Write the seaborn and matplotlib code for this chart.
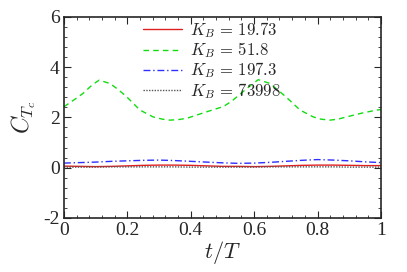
import numpy as np
import pandas as pd
import matplotlib
matplotlib.use("Agg")
import matplotlib.pyplot as plt
from matplotlib.ticker import MultipleLocator
import seaborn as sns

# data
t = [0.0, 0.05, 0.10, 0.15, 0.20, 0.25, 0.30, 0.35, 0.40, 0.45, 0.50,
     0.55, 0.60, 0.65, 0.70, 0.75, 0.80, 0.85, 0.90, 0.95, 1.0]
ct_1973 = [0.06, 0.05, 0.04, 0.05, 0.07, 0.09, 0.10, 0.10, 0.09, 0.07, 0.05,
           0.05, 0.04, 0.05, 0.07, 0.09, 0.10, 0.10, 0.09, 0.08, 0.08]
ct_1973b = [0.18, 0.20, 0.22, 0.25, 0.27, 0.29, 0.30, 0.28, 0.25, 0.22, 0.19,
            0.17, 0.18, 0.21, 0.25, 0.29, 0.32, 0.30, 0.27, 0.23, 0.20]
ct_73998 = [0.02, 0.02, 0.02, 0.03, 0.03, 0.03, 0.03, 0.03, 0.02, 0.02, 0.02,
            0.02, 0.02, 0.03, 0.03, 0.03, 0.03, 0.03, 0.02, 0.02, 0.02]

# the K_B = 51.8 curve has sharper peaks, so it gets its own time points
t_518 = [0.0, 0.03, 0.06, 0.09, 0.111, 0.145, 0.17, 0.198, 0.24, 0.281, 0.31, 0.334,
         0.36, 0.387, 0.45, 0.503, 0.53, 0.555, 0.59, 0.613, 0.65, 0.70, 0.745,
         0.786, 0.81, 0.839, 0.865, 0.892, 0.94, 0.986, 1.0]
ct_518 = [2.42, 2.68, 2.95, 3.30, 3.48, 3.35, 3.12, 2.82, 2.29, 2.02, 1.93, 1.89,
          1.91, 1.96, 2.22, 2.43, 2.65, 2.92, 3.28, 3.50, 3.35, 2.82, 2.29,
          2.02, 1.93, 1.89, 1.93, 2.02, 2.17, 2.29, 2.31]

labels = [r"$K_B\,=\,19.73$", r"$K_B\,=\,51.8$", r"$K_B\,=\,197.3$", r"$K_B\,=\,73998$"]
times = [t, t_518, t, t]
series = [ct_1973, ct_518, ct_1973b, ct_73998]
colors = ["#e02020", "#11dd11", "#2f2fff", "#555555"]
styles = ["-", (0, (4, 3)), (0, (5, 2, 1, 2)), (0, (1, 1))]

sns.set_style("ticks")
plt.rcParams["font.family"] = ["Liberation Serif", "DejaVu Serif"]
plt.rcParams["mathtext.fontset"] = "cm"
plt.rcParams["axes.unicode_minus"] = False

fig = plt.figure(figsize=(4.07, 2.72), dpi=100)
ax = fig.add_axes([0.157, 0.199, 0.779, 0.739])

for tt, vals, lab, c, ls in zip(times, series, labels, colors, styles):
    df = pd.DataFrame({"t": tt, "ct": vals})
    sns.lineplot(data=df, x="t", y="ct", ax=ax, color=c, linestyle=ls,
                 linewidth=1.0, label=lab)

ax.set_xlim(0, 1)
ax.set_ylim(-2, 6)
ax.xaxis.set_minor_locator(MultipleLocator(0.04))
ax.yaxis.set_minor_locator(MultipleLocator(0.4))
ax.set_xticks([0, 0.2, 0.4, 0.6, 0.8, 1.0])
ax.set_xticklabels(["0", "0.2", "0.4", "0.6", "0.8", "1"])
ax.set_yticks([-2, 0, 2, 4, 6])
ax.set_yticklabels(["-2", "0", "2", "4", "6"])
ax.tick_params(which="both", direction="in", top=True, right=True, labelsize=14, pad=3)
ax.tick_params(which="major", length=5, width=0.8)
ax.tick_params(which="minor", length=2.5, width=0.6)
for s in ax.spines.values():
    s.set_linewidth(1.2)

ax.set_xlabel(r"$t/T$", fontsize=16, labelpad=0)
ax.set_ylabel(r"$C_{T_c}$", fontsize=17, labelpad=4)

ax.legend(loc="upper left", bbox_to_anchor=(0.24, 1.0), frameon=False, fontsize=12,
          handlelength=2.3, handletextpad=0.5, labelspacing=0.02, borderaxespad=0.0,
          borderpad=0.2)

fig.savefig("out.png", dpi=100)
